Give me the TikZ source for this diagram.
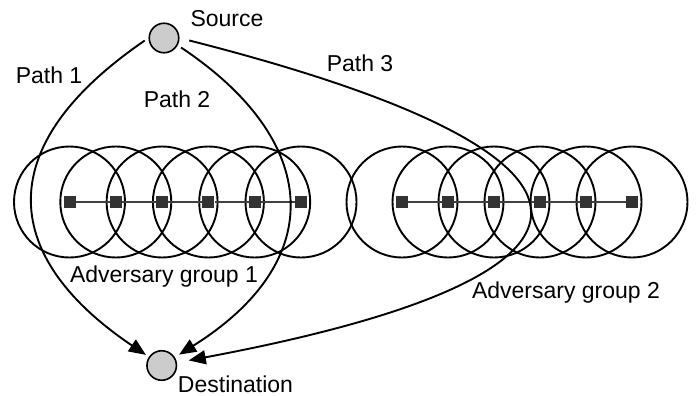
\documentclass[tikz,border=0pt]{standalone}
\usepackage{fontspec}
\setmainfont{Liberation Sans}
\usetikzlibrary{arrows.meta}
\begin{document}
\begin{tikzpicture}[x=1pt,y=-1pt,
  lbl/.style={font=\fontsize{23}{27}\selectfont, inner sep=0pt, anchor=base},
  terminal/.style={circle, draw=black, line width=1.6pt, fill=black!20, minimum size=29.5pt, inner sep=0pt},
  rangec/.style={draw=black, line width=1.9pt},
  adv/.style={rectangle, fill=black!80, minimum size=12pt, inner sep=0pt},
  link/.style={draw=black!75, line width=1.5pt},
  route/.style={draw=black, line width=1.9pt, -{Triangle[length=17pt,width=14pt]}}
]
\useasboundingbox (0,0) rectangle (696,396);

% adversary nodes
\foreach \i/\x in {1/69.5,2/115.8,3/162.1,4/208.4,5/254.7,6/301,
                   7/402,8/448,9/494,10/540,11/586,12/632}
  \node[adv] (a\i) at (\x,202) {};

% ranges
\foreach \i in {1,...,12}
  \draw[rangec] (a\i.center) circle[radius=55.5pt];

% links
\draw[link] (a1) -- (a2) -- (a3) -- (a4) -- (a5) -- (a6);
\draw[link] (a7) -- (a8) -- (a9) -- (a10) -- (a11) -- (a12);

% source / destination
\node[terminal] (src) at (164,38) {};
\node[terminal] (dst) at (161.7,365.5) {};

% paths
\draw[route, shorten <=4.5pt, shorten >=3.5pt] (src.west) .. controls (-15,150) and (5,260) .. (dst);
\draw[route, shorten <=4pt, shorten >=5pt] (src.332) .. controls (320,140) and (330,260) .. (dst);
\draw[route, shorten <=10pt, shorten >=12pt] (src.east) .. controls (640,155) and (645,275) .. (dst);

% labels
\node[lbl] (lsrc) at (227,27) {Source};
\node[lbl] (lp1) at (49,83) {Path 1};
\node[lbl] (lp2) at (177,107) {Path 2};
\node[lbl] (lp3) at (360,72) {Path 3};
\node[lbl] (lg1) at (164,282) {Adversary group 1};
\node[lbl] (lg2) at (566,298.5) {Adversary group 2};
\node[lbl] (ldst) at (235.5,392) {Destination};
\end{tikzpicture}
\end{document}
